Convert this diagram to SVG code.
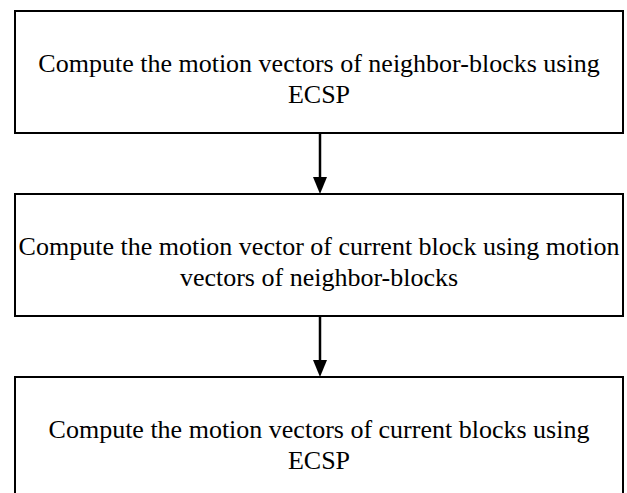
<svg xmlns="http://www.w3.org/2000/svg" width="627" height="493" viewBox="0 0 627 493">
<style>
.box{fill:#fff;stroke:#000;stroke-width:2}
.t{font-size:26px;fill:#000;text-anchor:middle}
.c{stroke:#000;stroke-width:2.5;fill:none}
.h{fill:#000}
</style>
<rect width="627" height="493" fill="#fff"/>
<g id="node1" font-family="'Liberation Serif', 'Times New Roman', Tinos, 'DejaVu Serif', serif">
<rect class="box" x="15" y="11" width="608" height="122"/>
<text class="t" x="319" y="72">Compute the motion vectors of neighbor-blocks using</text>
<text class="t" x="319" y="103">ECSP</text>
</g>
<g id="node2" font-family="'Liberation Serif', 'Times New Roman', Tinos, 'DejaVu Serif', serif">
<rect class="box" x="15" y="194" width="608" height="122"/>
<text class="t" x="319" y="255">Compute the motion vector of current block using motion</text>
<text class="t" x="319" y="286">vectors of neighbor-blocks</text>
</g>
<g id="node3" font-family="'Liberation Serif', 'Times New Roman', Tinos, 'DejaVu Serif', serif">
<rect class="box" x="15" y="377" width="608" height="122"/>
<text class="t" x="319" y="438">Compute the motion vectors of current blocks using</text>
<text class="t" x="319" y="469">ECSP</text>
</g>
<g id="connectors">
<line class="c" x1="320" y1="134" x2="320" y2="180"/>
<polygon class="h" points="313,177 327,177 320,194"/>
<line class="c" x1="320" y1="317" x2="320" y2="363"/>
<polygon class="h" points="313,360 327,360 320,377"/>
</g>
</svg>
